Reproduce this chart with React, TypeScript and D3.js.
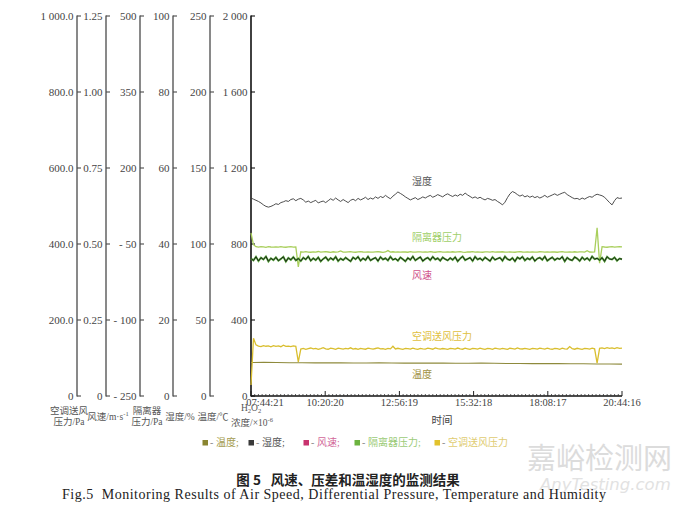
import React from "react";
import * as d3 from "d3";

// Time axis tick labels (sampling window of the monitoring run)
const TIME_LABELS = ["07:44:21", "10:20:20", "12:56:19", "15:32:18", "18:08:17", "20:44:16"];

// Y-axis ticks and their printed labels
const AC_TICKS = [0, 200, 400, 600, 800, 1000];
const AC_LABELS = ["0", "200.0", "400.0", "600.0", "800.0", "1 000.0"];
const WIND_TICKS = [0, 0.25, 0.5, 0.75, 1, 1.25];
const WIND_LABELS = ["0", "0.25", "0.50", "0.75", "1.00", "1.25"];
const ISO_TICKS = [-250, -100, 50, 200, 350, 500];
const ISO_LABELS = ["- 250", "- 100", "- 50", "200", "350", "500"];
const HUM_TICKS = [0, 20, 40, 60, 80, 100];
const HUM_LABELS = ["0", "20", "40", "60", "80", "100"];
const TEMP_TICKS = [0, 50, 100, 150, 200, 250];
const TEMP_LABELS = ["0", "50", "100", "150", "200", "250"];
const H2O2_TICKS = [0, 400, 800, 1200, 1600, 2000];
const H2O2_LABELS = ["0", "400", "800", "1 200", "1 600", "2 000"];

// Humidity, %
const humidity = [
  52.1, 51.8, 51.5, 51.2,
  50.8, 50.3, 49.9, 49.7, 49.9,
  50.2, 50.6, 50.4, 50.9, 51.1, 51.4,
  51.2, 51.7, 51.9, 51.4, 51.8, 52.0,
  51.6, 51.0, 51.3, 50.9, 51.2, 51.5, 50.8, 51.1, 51.3, 50.9,
  51.4, 51.9, 51.5, 52.1, 51.6, 51.2, 51.7, 51.3, 50.9, 51.5,
  51.8, 51.4, 52.0, 51.6, 51.9, 52.3, 51.7, 52.1, 51.8, 52.4,
  52.0, 52.5, 52.2, 52.8, 52.3, 51.9, 52.6, 53.1, 53.7, 53.3,
  52.9, 52.4, 52.0, 51.6, 51.9, 52.2, 51.7, 52.0, 52.4, 52.1,
  52.5, 52.8, 52.3, 52.6, 53.0, 52.7, 52.4, 52.9, 53.2, 52.8,
  52.5, 52.9, 52.6, 53.1, 52.8, 53.4, 52.9, 52.5, 52.1, 52.4,
  52.0, 52.3, 51.9, 51.6, 52.0, 51.8, 51.5, 51.7, 51.2, 50.8,
  50.3, 51.0, 52.2, 53.2, 53.8, 53.5, 53.0, 52.6, 52.9, 52.4,
  52.7, 52.3, 52.6, 52.2, 52.5, 52.1, 52.4, 52.8, 52.3, 52.6,
  52.9, 53.2, 52.8, 53.1, 53.4, 53.6, 53.0, 52.6, 52.2, 51.9,
  52.0, 51.7, 52.1, 51.8, 52.2, 52.5, 52.3, 52.8, 53.1, 52.9,
  52.7, 52.3, 51.6, 50.9, 50.3, 51.4, 52.2, 52.0, 52.1,
];

// Air speed, m/s
const windSpeed = [
  0.452, 0.446, 0.458, 0.444, 0.455, 0.449, 0.459, 0.443, 0.453, 0.447,
  0.456, 0.445, 0.451, 0.458, 0.442, 0.454, 0.448, 0.457, 0.446, 0.452,
  0.444, 0.455, 0.449, 0.459, 0.445, 0.453, 0.447, 0.456, 0.443, 0.451,
  0.457, 0.446, 0.454, 0.448, 0.458, 0.444, 0.452, 0.447, 0.455, 0.449,
  0.443, 0.456, 0.450, 0.458, 0.445, 0.453, 0.447, 0.459, 0.446, 0.451,
  0.455, 0.444, 0.457, 0.449, 0.453, 0.446, 0.458, 0.448, 0.452, 0.445,
  0.456, 0.450, 0.443, 0.454, 0.448, 0.459, 0.446, 0.452, 0.457, 0.444,
  0.451, 0.455, 0.447, 0.458, 0.449, 0.453, 0.445, 0.456, 0.450, 0.446,
  0.454, 0.448, 0.457, 0.443, 0.452, 0.459, 0.447, 0.451, 0.455, 0.444,
  0.458, 0.449, 0.453, 0.446, 0.456, 0.450, 0.444, 0.457, 0.448, 0.452,
  0.455, 0.445, 0.459, 0.450, 0.447, 0.454, 0.443, 0.456, 0.451, 0.458,
  0.446, 0.453, 0.449, 0.457, 0.444, 0.452, 0.455, 0.448, 0.459, 0.445,
  0.451, 0.456, 0.447, 0.453, 0.450, 0.458, 0.443, 0.455, 0.449, 0.446,
  0.457, 0.452, 0.444, 0.456, 0.448, 0.454, 0.446, 0.459, 0.450, 0.453,
  0.447, 0.455, 0.443, 0.458, 0.451, 0.449, 0.456, 0.445, 0.452, 0.450,
];

// Isolator differential pressure, Pa
const isolatorPressure = [
  71.7, 48.5, 44.6, 43.8, 44.9, 44.2, 43.5, 44.8, 44.1, 43.7,
  44.5, 43.9, 44.7, 44.0, 43.6, 44.3, 44.9, 43.8, 44.2, 5.0,
  34.6, 33.9, 34.8, 34.1, 33.7, 34.5, 34.0, 35.2, 33.8, 34.4,
  34.9, 34.2, 33.6, 34.7, 34.0, 34.6, 36.5, 34.1, 33.9, 34.5,
  34.8, 34.0, 33.7, 34.4, 35.0, 34.2, 33.8, 34.6, 34.1, 33.9,
  34.5, 34.9, 34.2, 33.6, 34.3, 37.0, 34.1, 34.7, 33.8, 34.4,
  34.0, 34.6, 34.2, 33.7, 34.8, 34.1, 33.9, 34.5, 34.3, 33.8,
  34.6, 34.0, 35.1, 34.2, 33.7, 34.4, 34.8, 34.0, 33.9, 34.5,
  34.1, 34.7, 33.8, 34.3, 34.9, 34.0, 33.6, 34.4, 34.2, 34.8,
  33.9, 34.5, 34.1, 33.7, 34.6, 34.3, 34.0, 34.8, 33.8, 34.4,
  34.2, 34.7, 33.9, 34.1, 34.6, 34.0, 33.7, 34.5, 34.9, 34.2,
  33.8, 34.4, 34.0, 34.6, 34.1, 33.9, 34.7, 34.3, 33.8, 34.5,
  34.0, 34.6, 34.2, 33.7, 34.4, 34.9, 34.1, 33.8, 34.5, 34.0,
  34.7, 33.9, 34.3, 34.6, 34.1, 36.8, 34.2, 33.8, 34.5, 82.0,
  12.0, 44.8, 44.1, 43.6, 44.5, 44.9, 43.8, 44.3, 44.7, 44.2,
];

// Air-conditioning supply pressure, Pa
const acSupplyPressure = [
  28.9, 152.0, 134.5, 131.2, 129.8, 132.6, 130.9, 131.8, 129.5, 132.3,
  130.4, 131.9, 129.7, 133.8, 130.6, 131.4, 129.9, 132.1, 130.8, 89.5,
  123.4, 125.1, 122.8, 124.6, 126.3, 123.9, 125.5, 122.7, 124.8, 127.2,
  124.1, 123.0, 125.7, 124.4, 122.9, 126.0, 124.7, 123.5, 125.2, 124.0,
  126.8, 123.6, 124.9, 122.6, 125.4, 124.2, 123.1, 125.9, 124.5, 123.3,
  125.0, 126.5, 123.8, 124.6, 122.9, 125.3, 124.1, 131.0, 123.7, 125.6,
  124.3, 122.8, 125.1, 124.8, 123.4, 126.1, 124.0, 122.7, 125.5, 124.2,
  123.6, 125.8, 124.4, 123.0, 126.4, 124.7, 123.2, 125.0, 124.1, 122.9,
  125.4, 124.6, 123.5, 126.2, 124.0, 123.1, 125.7, 124.3, 122.8, 125.1,
  124.7, 123.4, 125.9, 124.2, 122.6, 125.3, 124.8, 123.0, 126.0, 124.4,
  123.5, 125.2, 124.1, 122.9, 125.6, 124.6, 123.3, 126.3, 124.0, 123.7,
  125.5, 124.3, 122.7, 125.0, 124.8, 123.2, 125.8, 124.5, 123.6, 126.1,
  124.2, 123.0, 125.4, 124.7, 122.9, 125.9, 124.1, 123.5, 130.2, 124.4,
  123.1, 125.6, 124.3, 122.8, 125.2, 124.6, 123.4, 125.7, 124.0, 86.8,
  125.3, 126.8, 124.9, 127.1, 125.6, 126.4, 124.8, 127.0, 125.5, 126.2,
];

// Temperature, ℃
const temperature = [
  22.0, 22.1, 22.0, 21.9, 21.9, 21.8, 21.9, 21.8, 21.7, 21.7,
  21.8, 21.7, 21.6, 21.6, 21.7, 21.6, 21.5, 21.5, 21.6, 21.5,
  21.4, 21.4, 21.3, 21.4, 21.3, 21.2, 21.2, 21.1, 21.1, 21.0,
];

const W = 680;
const H = 505;
const Y_BOTTOM = 396;
const Y_TOP = 16;
const X_LEFT = 251;
const X_RIGHT = 622;

const SERIF = "'Liberation Serif', 'Noto Sans CJK SC', serif";
const CJK = "'Liberation Serif', 'Noto Sans CJK SC', serif";

const parseTime = d3.timeParse("%H:%M:%S");
const tickTimes = TIME_LABELS.map((s) => parseTime(s) as Date);
const x = d3.scaleTime().domain([tickTimes[0], tickTimes[tickTimes.length - 1]]).range([X_LEFT, X_RIGHT]);

const yScale = (domain: [number, number]) => d3.scaleLinear().domain(domain).range([Y_BOTTOM, Y_TOP]);
const yAc = yScale([0, 1000]);
const yWind = yScale([0, 1.25]);
const yIso = yScale([-250, 500]);
const yHum = yScale([0, 100]);
const yTemp = yScale([0, 250]);
const yH2o2 = yScale([0, 2000]);

function sampleTimes(n: number): Date[] {
  const t0 = +tickTimes[0];
  const t1 = +tickTimes[tickTimes.length - 1];
  return d3.range(n).map((i) => new Date(t0 + ((t1 - t0) * i) / (n - 1)));
}

function pathFor(values: number[], y: d3.ScaleLinear<number, number>) {
  const ts = sampleTimes(values.length);
  const line = d3
    .line<number>()
    .x((_, i) => x(ts[i]))
    .y((v) => y(v));
  return line(values) || "";
}

type AxisDef = {
  x: number;
  scale: d3.ScaleLinear<number, number>;
  ticks: number[];
  labels: string[];
  stroke: string;
  width: number;
};

const yAxes: AxisDef[] = [
  { x: 77, scale: yAc, ticks: AC_TICKS, labels: AC_LABELS, stroke: "#4a4a4a", width: 1.3 },
  { x: 106, scale: yWind, ticks: WIND_TICKS, labels: WIND_LABELS, stroke: "#4a4a4a", width: 1.3 },
  { x: 140, scale: yIso, ticks: ISO_TICKS, labels: ISO_LABELS, stroke: "#4a4a4a", width: 1.3 },
  { x: 173, scale: yHum, ticks: HUM_TICKS, labels: HUM_LABELS, stroke: "#4a4a4a", width: 1.3 },
  { x: 210, scale: yTemp, ticks: TEMP_TICKS, labels: TEMP_LABELS, stroke: "#4a4a4a", width: 1.3 },
  { x: 251, scale: yH2o2, ticks: H2O2_TICKS, labels: H2O2_LABELS, stroke: "#111", width: 1.6 },
];

const legendItems = [
  { name: "温度;", box: "#8a8530", text: "#a39a4c", x: 205 },
  { name: "湿度;", box: "#3a3a3a", text: "#555", x: 251 },
  { name: "风速;", box: "#c8336e", text: "#d2679a", x: 306 },
  { name: "隔离器压力;", box: "#6cb33f", text: "#9ccb78", x: 357 },
  { name: "空调送风压力", box: "#e2c22c", text: "#e0cc72", x: 437 },
];

export default function App() {
  const majorTicks = tickTimes;
  const minorTicks: Date[] = [];
  for (let k = 0; k < majorTicks.length - 1; k++) {
    const a = +majorTicks[k];
    const b = +majorTicks[k + 1];
    for (let j = 1; j < 20; j++) minorTicks.push(new Date(a + ((b - a) * j) / 20));
  }

  return (
    <svg
      width={W}
      height={H}
      style={{ position: "absolute", left: 0, top: 0, background: "#fff" }}
      fontFamily={SERIF}
    >
      <rect width={W} height={H} fill="#fff" />

      {/* watermark */}
      <text x={527} y={469} fontFamily="'Noto Sans CJK SC', sans-serif" fontSize={29} fill="#dcdcdc">
        嘉峪检测网
      </text>
      <text x={540} y={490} fontFamily="'DejaVu Sans', sans-serif" fontStyle="italic" fontSize={16.5} fill="#e2e2e2">
        AnyTesting.com
      </text>

      {/* y axes */}
      {yAxes.map((ax, k) => (
        <g key={k}>
          <line x1={ax.x} x2={ax.x} y1={Y_TOP - 0.5} y2={Y_BOTTOM + 0.5} stroke={ax.stroke} strokeWidth={ax.width} />
          {ax.ticks.map((t, i) => (
            <g key={i}>
              <line x1={ax.x} x2={ax.x + 4} y1={ax.scale(t)} y2={ax.scale(t)} stroke={ax.stroke} strokeWidth={1.1} />
              <text
                x={ax.x - 3.5}
                y={ax.scale(t)}
                dy="0.35em"
                textAnchor="end"
                fontSize={11}
                fill="#444"
              >
                {ax.labels[i]}
              </text>
            </g>
          ))}
        </g>
      ))}

      {/* x axis */}
      <line x1={X_LEFT} x2={X_RIGHT} y1={Y_BOTTOM} y2={Y_BOTTOM} stroke="#111" strokeWidth={1.4} />
      {minorTicks.map((t, i) => (
        <line key={"m" + i} x1={x(t)} x2={x(t)} y1={Y_BOTTOM} y2={Y_BOTTOM - 2} stroke="#333" strokeWidth={0.8} />
      ))}
      {majorTicks.map((t, i) => (
        <line key={"M" + i} x1={x(t)} x2={x(t)} y1={Y_BOTTOM} y2={Y_BOTTOM - 5} stroke="#222" strokeWidth={1} />
      ))}
      {majorTicks.map((t, i) => (
        <text
          key={"L" + i}
          x={i === 0 ? x(t) + 14 : x(t)}
          y={406}
          textAnchor="middle"
          fontSize={10.5}
          fill="#444"
        >
          {TIME_LABELS[i]}
        </text>
      ))}
      <text x={442} y={424} textAnchor="middle" fontFamily={CJK} fontSize={10.5} fill="#444">
        时间
      </text>

      {/* axis titles */}
      <g fontFamily={CJK} fontSize={9.5} fill="#555" textAnchor="middle">
        <text x={69} y={414}>空调送风</text>
        <text x={69} y={425}>压力/Pa</text>
        <text x={108} y={420}>
          风速/m·s<tspan fontSize={6.5} dy={-4}>-1</tspan>
        </text>
        <text x={147} y={414}>隔离器</text>
        <text x={147} y={425}>压力/Pa</text>
        <text x={180} y={420}>湿度/%</text>
        <text x={213} y={420}>温度/℃</text>
        <text x={251} y={411}>
          H<tspan fontSize={6.5} dy={2}>2</tspan>
          <tspan dy={-2}>O</tspan>
          <tspan fontSize={6.5} dy={2}>2</tspan>
        </text>
        <text x={252} y={426}>
          浓度/×10<tspan fontSize={6.5} dy={-4}>-6</tspan>
        </text>
      </g>

      {/* series */}
      <path d={pathFor(temperature, yTemp)} fill="none" stroke="#8e8a3c" strokeWidth={1.1} />
      <path d={pathFor(acSupplyPressure, yAc)} fill="none" stroke="#d9be2e" strokeWidth={1.3} />
      <path d={pathFor(isolatorPressure, yIso)} fill="none" stroke="#a9cf5c" strokeWidth={1.3} />
      <path d={pathFor(windSpeed, yWind)} fill="none" stroke="#5aa63f" strokeWidth={2} />
      <path d={pathFor(windSpeed, yWind)} fill="none" stroke="#1a2616" strokeWidth={1} />
      <path d={pathFor(humidity, yHum)} fill="none" stroke="#3a3a3a" strokeWidth={0.9} />

      {/* series labels */}
      <g fontFamily={CJK} fontSize={10} textAnchor="middle">
        <text x={422} y={185} fill="#555">湿度</text>
        <text x={437} y={241} fill="#9fcf6a">隔离器压力</text>
        <text x={422} y={279} fill="#d0508a">风速</text>
        <text x={442} y={340} fill="#e0c040">空调送风压力</text>
        <text x={422} y={378} fill="#a09040">温度</text>
      </g>

      {/* legend */}
      <g fontFamily={CJK} fontSize={10}>
        {legendItems.map((it, i) => (
          <g key={i}>
            <rect x={it.x - 2.5} y={440} width={5.5} height={5.5} fill={it.box} />
            <text x={it.x + 5} y={446} fill="#888">-</text>
            <text x={it.x + 11} y={446} fill={it.text}>{it.name}</text>
          </g>
        ))}
      </g>

      {/* caption */}
      <text
        x={348}
        y={485}
        textAnchor="middle"
        fontFamily="'Noto Sans CJK SC', sans-serif"
        fontWeight={700}
        fontSize={13.5}
        fill="#222"
        xmlSpace="preserve"
        style={{ whiteSpace: "pre" }}
      >
        {"图 5\u2002 风速、压差和温湿度的监测结果"}
      </text>
      <text
        x={62}
        y={499}
        fontSize={14}
        fill="#222"
        textLength={544}
        lengthAdjust="spacing"
        xmlSpace="preserve"
        style={{ whiteSpace: "pre" }}
      >
        {"Fig.5  Monitoring Results of Air Speed, Differential Pressure, Temperature and Humidity"}
      </text>
    </svg>
  );
}
